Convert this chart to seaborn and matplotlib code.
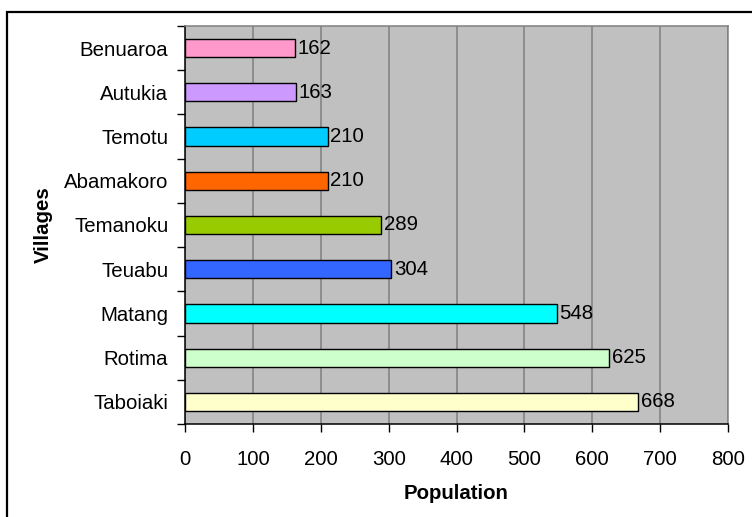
import matplotlib
matplotlib.use("Agg")
import matplotlib.pyplot as plt
from matplotlib.patches import Rectangle
from matplotlib.ticker import FixedLocator
import seaborn as sns
import pandas as pd

villages = ["Benuaroa", "Autukia", "Temotu", "Abamakoro", "Temanoku",
            "Teuabu", "Matang", "Rotima", "Taboiaki"]
population = [162, 163, 210, 210, 289, 304, 548, 625, 668]
bar_colors = ["#FF99CC", "#CC99FF", "#00CCFF", "#FF6600", "#99CC00",
              "#3366FF", "#00FFFF", "#CCFFCC", "#FFFFCC"]
x_ticks = [0, 100, 200, 300, 400, 500, 600, 700, 800]

df = pd.DataFrame({"Villages": villages, "Population": population})

sns.set_style("white")
plt.rcParams["font.family"] = ["Liberation Sans", "DejaVu Sans"]
plt.rcParams["text.color"] = "black"
plt.rcParams["axes.labelcolor"] = "black"
plt.rcParams["xtick.color"] = "black"
plt.rcParams["ytick.color"] = "black"

FS = 14.7
W, H = 752, 517
fig = plt.figure(figsize=(W / 100, H / 100), dpi=100)
ax = fig.add_axes([185 / W, (H - 424) / H, (728 - 185) / W, (424 - 26) / H])
ax.set_facecolor("#C0C0C0")

sns.barplot(data=df, y="Villages", x="Population", hue="Villages",
            palette=bar_colors, orient="h", width=0.41, legend=False,
            edgecolor="black", linewidth=1.0, saturation=1, ax=ax, zorder=3)

for patch, val in zip(ax.patches, population):
    ax.text(patch.get_x() + patch.get_width() + 3.5,
            patch.get_y() + patch.get_height() / 2, f"{val}",
            va="center", ha="left", fontsize=FS, color="black", zorder=4)

ax.set_xlim(0, 800)
ax.set_ylim(8.5, -0.5)
ax.set_xticks(x_ticks)
ax.set_xticklabels([str(t) for t in x_ticks], fontsize=FS)
ax.xaxis.grid(True, color="#808080", linewidth=1.1, zorder=1)
ax.set_axisbelow(True)

ax.tick_params(axis="y", which="major", length=0, pad=12, labelsize=FS)
ax.yaxis.set_minor_locator(FixedLocator([i - 0.5 for i in range(10)]))
ax.tick_params(axis="y", which="minor", length=6, width=1.0, color="black",
               direction="out", left=True)
ax.tick_params(axis="x", which="major", length=6, width=1.0, color="black",
               direction="out", bottom=True, pad=12.5)

for side in ["left", "bottom"]:
    ax.spines[side].set_color("black")
    ax.spines[side].set_linewidth(1.1)
for side in ["top", "right"]:
    ax.spines[side].set_visible(True)
    ax.spines[side].set_color("#808080")
    ax.spines[side].set_linewidth(1.1)

ax.set_xlabel("Population", fontsize=FS, fontweight="bold", labelpad=11)
ax.set_ylabel("Villages", fontsize=FS, fontweight="bold", labelpad=8)

fig.patches.append(Rectangle((7 / W, -0.05), 1.1, (H - 12) / H + 0.05,
                             transform=fig.transFigure, fill=False,
                             edgecolor="black", linewidth=1.6))

fig.savefig("out.png", dpi=100)
